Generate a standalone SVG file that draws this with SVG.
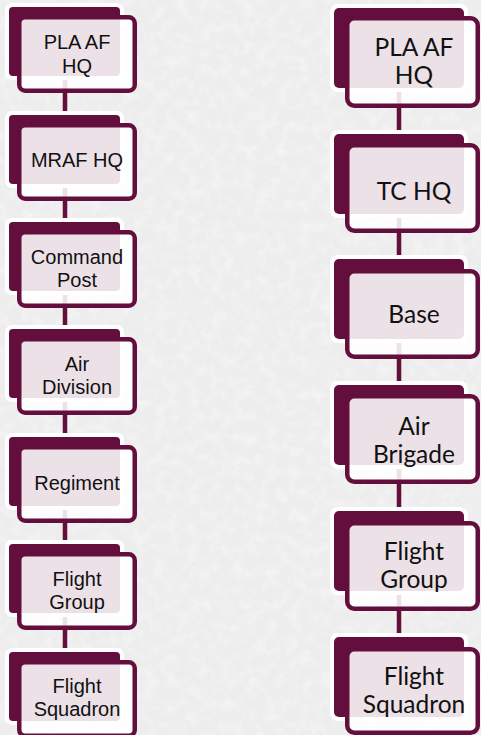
<svg xmlns="http://www.w3.org/2000/svg" width="481" height="735" viewBox="0 0 481 735">
<defs>
<filter id="noise" x="0" y="0" width="100%" height="100%">
<feTurbulence type="fractalNoise" baseFrequency="0.09" numOctaves="4" seed="7" result="t"/>
<feColorMatrix in="t" type="matrix" values="0 0 0 0 1  0 0 0 0 1  0 0 0 0 1  2.2 0 0 0 -0.9"/>
</filter>
<filter id="grain" x="0" y="0" width="100%" height="100%">
<feTurbulence type="fractalNoise" baseFrequency="1.1" numOctaves="1" seed="3" result="t"/>
<feColorMatrix in="t" type="matrix" values="0 0 0 0 0.85  0 0 0 0 0.85  0 0 0 0 0.85  1.6 0 0 0 -0.8"/>
</filter>
<style>
.halo{fill:#ffffff}
.back{fill:#630e3d}
.front{fill:#ffffff;fill-opacity:0.88;stroke:#630e3d;stroke-width:4.5}
.conn{stroke:#630e3d;stroke-width:4.5;fill:none}
.tl{font-family:"Liberation Sans",Arial,sans-serif;font-size:20px;fill:#111111;text-anchor:middle}
.tr{font-family:Lato,"Noto Sans",sans-serif;font-size:24.5px;fill:#111111;text-anchor:middle}
</style>
</defs>
<rect width="481" height="735" fill="#ededed"/>
<rect width="481" height="735" filter="url(#noise)" opacity="0.4"/>
<rect width="481" height="735" filter="url(#grain)" opacity="0.45"/>

<g id="connectors">
<line class="conn" x1="65" y1="76" x2="65" y2="652"/>
<line class="conn" x1="399" y1="88" x2="399" y2="637"/>
</g>

<g id="L1"><rect class="halo" x="5" y="3" width="119" height="77" rx="7"/><rect class="back" x="9" y="7" width="111" height="69" rx="4"/><rect class="front" x="19.25" y="17.25" width="115.5" height="73.5" rx="6"/><text class="tl" x="77" y="48.5">PLA AF</text><text class="tl" x="77" y="72.5">HQ</text></g>
<g id="L2"><rect class="halo" x="5" y="111" width="119" height="77" rx="7"/><rect class="back" x="9" y="115" width="111" height="69" rx="4"/><rect class="front" x="19.25" y="125.25" width="115.5" height="73.5" rx="6"/><text class="tl" x="77" y="167">MRAF HQ</text></g>
<g id="L3"><rect class="halo" x="5" y="218" width="119" height="77" rx="7"/><rect class="back" x="9" y="222" width="111" height="69" rx="4"/><rect class="front" x="19.25" y="232.25" width="115.5" height="73.5" rx="6"/><text class="tl" x="77" y="264">Command</text><text class="tl" x="77" y="287">Post</text></g>
<g id="L4"><rect class="halo" x="5" y="325" width="119" height="77" rx="7"/><rect class="back" x="9" y="329" width="111" height="69" rx="4"/><rect class="front" x="19.25" y="339.25" width="115.5" height="73.5" rx="6"/><text class="tl" x="77" y="371">Air</text><text class="tl" x="77" y="394">Division</text></g>
<g id="L5"><rect class="halo" x="5" y="433" width="119" height="77" rx="7"/><rect class="back" x="9" y="437" width="111" height="69" rx="4"/><rect class="front" x="19.25" y="447.25" width="115.5" height="73.5" rx="6"/><text class="tl" x="77" y="490">Regiment</text></g>
<g id="L6"><rect class="halo" x="5" y="540" width="119" height="77" rx="7"/><rect class="back" x="9" y="544" width="111" height="69" rx="4"/><rect class="front" x="19.25" y="554.25" width="115.5" height="73.5" rx="6"/><text class="tl" x="77" y="586">Flight</text><text class="tl" x="77" y="609">Group</text></g>
<g id="L7"><rect class="halo" x="5" y="648" width="119" height="77" rx="7"/><rect class="back" x="9" y="652" width="111" height="69" rx="4"/><rect class="front" x="19.25" y="662.25" width="115.5" height="73.5" rx="6"/><text class="tl" x="77" y="693">Flight</text><text class="tl" x="77" y="716">Squadron</text></g>

<g id="R1"><rect class="halo" x="330" y="4" width="138" height="88" rx="8"/><rect class="back" x="334" y="8" width="130" height="80" rx="5"/><rect class="front" x="347.25" y="18.25" width="130.5" height="87.5" rx="7"/><text class="tr" x="414" y="56">PLA AF</text><text class="tr" x="414" y="84">HQ</text></g>
<g id="R2"><rect class="halo" x="330" y="130" width="138" height="88" rx="8"/><rect class="back" x="334" y="134" width="130" height="80" rx="5"/><rect class="front" x="347.25" y="145.25" width="130.5" height="85.5" rx="7"/><text class="tr" x="414" y="200">TC HQ</text></g>
<g id="R3"><rect class="halo" x="330" y="255" width="138" height="88" rx="8"/><rect class="back" x="334" y="259" width="130" height="80" rx="5"/><rect class="front" x="347.25" y="271.25" width="130.5" height="85.5" rx="7"/><text class="tr" x="414" y="323">Base</text></g>
<g id="R4"><rect class="halo" x="330" y="381" width="138" height="88" rx="8"/><rect class="back" x="334" y="385" width="130" height="80" rx="5"/><rect class="front" x="347.25" y="396.25" width="130.5" height="85.5" rx="7"/><text class="tr" x="414" y="435">Air</text><text class="tr" x="414" y="463">Brigade</text></g>
<g id="R5"><rect class="halo" x="330" y="507" width="138" height="88" rx="8"/><rect class="back" x="334" y="511" width="130" height="80" rx="5"/><rect class="front" x="347.25" y="523.25" width="130.5" height="85.5" rx="7"/><text class="tr" x="414" y="560">Flight</text><text class="tr" x="414" y="588">Group</text></g>
<g id="R6"><rect class="halo" x="330" y="633" width="138" height="88" rx="8"/><rect class="back" x="334" y="637" width="130" height="80" rx="5"/><rect class="front" x="347.25" y="649.25" width="130.5" height="83.5" rx="7"/><text class="tr" x="414" y="685">Flight</text><text class="tr" x="414" y="713">Squadron</text></g>
</svg>
